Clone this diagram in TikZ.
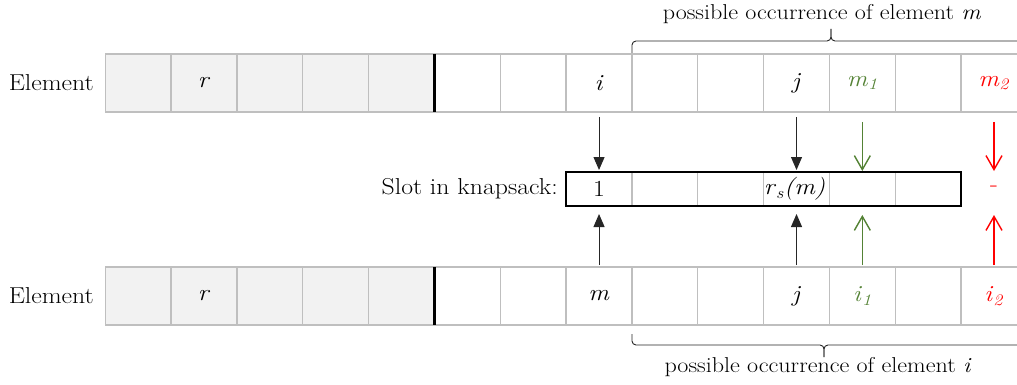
\documentclass[tikz,border=0pt]{standalone}
\usepackage{fontspec}
\setmainfont{Latin Modern Roman}[FakeStretch=1.12]
\usetikzlibrary{arrows.meta}
\definecolor{gridgray}{HTML}{BFBFBF}
\definecolor{cellfill}{HTML}{F2F2F2}
\definecolor{okgreen}{HTML}{548235}
\definecolor{badred}{HTML}{FF0000}
\begin{document}
\begin{tikzpicture}[x=1pt,y=-1pt,
  font=\fontsize{23}{27}\selectfont,
  cell/.style={draw=gridgray,line width=1.3pt,minimum width=65.83pt,minimum height=58pt,inner sep=0pt,outer sep=0pt},
  kcell/.style={draw=gridgray,line width=1.2pt,minimum width=65.83pt,minimum height=34pt,inner sep=0pt,outer sep=0pt},
  blk/.style={draw=black!85,line width=1pt,-{Triangle[length=13pt,width=11pt]}},
  grn/.style={draw=okgreen,line width=1.4pt,-{Straight Barb[length=14pt,width=16pt]}},
  rd/.style={draw=badred,line width=1.4pt,-{Straight Barb[length=14pt,width=16pt]}},
  brc/.style={draw=black!85,line width=0.9pt,rounded corners=4pt},
  brlbl/.style={font=\fontsize{21.5}{25}\selectfont},
  lbl/.style={inner sep=0pt}]
\useasboundingbox (0,0) rectangle (1017,385);
% top row
\foreach \i in {0,...,4} \node[cell,fill=cellfill] (t\i) at ({105.3+65.83*(\i+0.5)},83) {};
\foreach \i in {5,...,13} \node[cell] (t\i) at ({105.3+65.83*(\i+0.5)},83) {};
% bottom row
\foreach \i in {0,...,4} \node[cell,fill=cellfill] (b\i) at ({105.3+65.83*(\i+0.5)},296) {};
\foreach \i in {5,...,13} \node[cell] (b\i) at ({105.3+65.83*(\i+0.5)},296) {};
% thick separators
\draw[line width=3.5pt] (t4.north east) -- (t4.south east);
\draw[line width=3.5pt] (b4.north east) -- (b4.south east);
% row labels
\node[lbl,anchor=east] (elt) at (94,83) {Element};
\node[lbl,anchor=east] (elb) at (94,296) {Element};
% top row contents
\node (tr) at (t1) {\textit{r}};
\node (ti) at (t7) {\textit{i}};
\node (tj) at (t10) {\textit{j}};
\node[text=okgreen] (tm1) at (t11) {\textit{m}\textsubscript{\textit{1}}};
\node[text=badred] (tm2) at (t13) {\textit{m}\textsubscript{\textit{2}}};
% bottom row contents
\node (br) at (b1) {\textit{r}};
\node (bm) at (b7) {\textit{m}};
\node (bj) at (b10) {\textit{j}};
\node[text=okgreen] (bi1) at (b11) {\textit{i}\textsubscript{\textit{1}}};
\node[text=badred] (bi2) at (b13) {\textit{i}\textsubscript{\textit{2}}};
% knapsack
\foreach \k in {0,...,5} \node[kcell] (k\k) at ({105.3+65.83*(\k+7.5)},189) {};
\draw[line width=1.8pt] (k0.north west) rectangle (k5.south east);
\node (k1t) at (k0) {1};
\node (krs) at ([xshift=-2pt]k3) {\textit{r}\textsubscript{\textit{s}}\textit{(m)}};
\node[lbl,anchor=east] (slot) at (558,189) {Slot in knapsack:};
\node[text=badred] (dash) at (t13 |- k0) {-};
\coordinate[yshift=1pt] (rtop) at (t13 |- k0.north);
\coordinate[yshift=-9pt] (rbot) at (t13 |- k0.south);
% arrows
\draw[blk] ([yshift=-5pt]t7.south) -- ([yshift=2pt]k0.north);
\draw[blk] ([yshift=-5pt]t10.south) -- ([yshift=2pt]k3.north);
\draw[grn] ([yshift=-10pt]t11.south) -- ([yshift=1pt]k4.north);
\draw[rd] ([yshift=-10pt]t13.south) -- (rtop);
\draw[blk] ([yshift=2pt]b7.north) -- ([yshift=-8pt]k0.south);
\draw[blk] ([yshift=2pt]b10.north) -- ([yshift=-8pt]k3.south);
\draw[grn] ([yshift=2pt]b11.north) -- ([yshift=-9pt]k4.south);
\draw[rd] ([yshift=2pt]b13.north) -- (rbot);
% braces
\coordinate (bt1) at (632,53);
\coordinate (btip) at (831,29);
\coordinate (bt2) at (1030,53);
\draw[brc] (bt1) -- (632,41) -- (831,41) -- (btip);
\draw[brc] (btip) -- (831,41) -- (1030,41) -- (bt2);
\node[brlbl] (ptop) at (822,14) {possible occurrence of element \textit{m}};
\coordinate (bb1) at (632,334);
\coordinate (bbtip) at (824,357);
\coordinate (bb2) at (1030,334);
\draw[brc] (bb1) -- (632,345) -- (824,345) -- (bbtip);
\draw[brc] (bbtip) -- (824,345) -- (1030,345) -- (bb2);
\node[brlbl] (pbot) at (818,367) {possible occurrence of element \textit{i}};
\end{tikzpicture}
\end{document}
